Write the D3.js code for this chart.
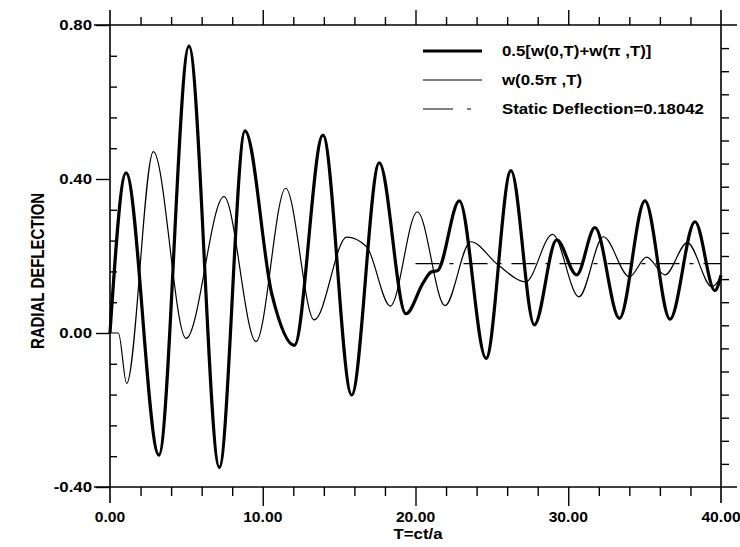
<!DOCTYPE html>
<html><head><meta charset="utf-8">
<script src="https://cdn.jsdelivr.net/npm/d3@7"></script>
<style>body{margin:0;background:#fff}text{font-family:"Liberation Sans",Arial,sans-serif;font-weight:bold;fill:#000}</style>
</head><body><svg id="c" width="740" height="547"></svg>
<script>
// thick: 0.5[w(0,T)+w(pi,T)]
const thickT = [0,1.05,3.2,5.17,7.16,8.84,10.6,12.07,13.94,15.82,17.63,19.37,20.5,21.0,21.45,22.87,24.62,26.25,27.78,29.24,30.55,31.75,33.35,35.02,36.66,38.3,39.6,40];
const thickV = [0,0.416,-0.317,0.745,-0.349,0.525,0.10,-0.032,0.514,-0.161,0.442,0.05,0.13,0.158,0.162,0.343,-0.066,0.422,0.021,0.242,0.151,0.274,0.038,0.343,0.036,0.289,0.11,0.15];
// thin: w(0.5pi,T)
const thinT = [0,0.55,1.09,2.84,4.98,7.46,9.56,11.5,13.37,15.5,16.8,18.35,20.12,21.93,23.61,25.4,27.21,28.97,30.7,32.3,34.0,35.13,36.33,37.8,39.4,40];
const thinV = [0,0,-0.131,0.471,-0.014,0.354,-0.022,0.376,0.034,0.249,0.224,0.07,0.315,0.071,0.237,0.177,0.133,0.256,0.094,0.25,0.146,0.197,0.151,0.235,0.12,0.145];
const staticValue = 0.18042;
const staticRange = [20, 40];
const xTicks = [0,10,20,30,40];
const xTickLabels = ["0.00","10.00","20.00","30.00","40.00"];
const yTicks = [-0.4,0,0.4,0.8];
const yTickLabels = ["-0.40","0.00","0.40","0.80"];
const legendLabels = ["0.5[w(0,T)+w(\u03c0 ,T)]","w(0.5\u03c0 ,T)","Static Deflection=0.18042"];

const svg = d3.select("#c");
const x = d3.scaleLinear([0,40],[110,721]);
const y = d3.scaleLinear([-0.4,0.8],[487,25]);
const X0=110,X1=721,Y0=25,Y1=487;

const frame=[[X0-16,Y0,X1+16,Y0],[X0-16,Y1,X1+16,Y1],[X0,Y0-15,X0,Y1+16],[X1,Y0-15,X1,Y1+16]];
svg.selectAll("line.f").data(frame).join("line").attr("x1",d=>d[0]).attr("y1",d=>d[1]).attr("x2",d=>d[2]).attr("y2",d=>d[3]).attr("stroke","#000").attr("stroke-width",1.6);

const minorX = d3.range(0,40.001,2).filter(v=>v%10!==0);
const minorYL = d3.range(-0.4,0.8001,0.08).map(v=>+v.toFixed(2)).filter(v=>!yTicks.some(t=>Math.abs(t-v)<1e-6));
const minorYR = d3.range(-0.4,0.8001,0.06).map(v=>+v.toFixed(2)).filter(v=>v>-0.39&&v<0.79);
function ax(g){g.select(".domain").remove();g.selectAll("line").attr("stroke","#000").attr("stroke-width",1.4);g.selectAll("text").remove();}
svg.append("g").attr("transform",`translate(0,${Y0})`).call(d3.axisTop(x).tickValues(minorX).tickSize(8)).call(ax);
svg.append("g").attr("transform",`translate(0,${Y0})`).call(d3.axisTop(x).tickValues([10,20,30]).tickSize(15)).call(ax);
svg.append("g").attr("transform",`translate(0,${Y1})`).call(d3.axisBottom(x).tickValues(minorX).tickSize(9)).call(ax);
svg.append("g").attr("transform",`translate(0,${Y1})`).call(d3.axisBottom(x).tickValues([10,20,30]).tickSize(19)).call(ax);
svg.append("g").attr("transform",`translate(${X0},0)`).call(d3.axisRight(y).tickValues(minorYL).tickSize(7)).call(ax);
svg.append("g").attr("transform",`translate(${X0},0)`).call(d3.axisLeft(y).tickValues(yTicks).tickSize(14)).call(ax);
svg.append("g").attr("transform",`translate(${X1},0)`).call(d3.axisRight(y).tickValues(minorYR).tickSize(8)).call(ax);

svg.selectAll("text.xl").data(xTicks).join("text").attr("text-anchor","middle").attr("font-size",14)
  .attr("transform",d=>`translate(${x(d)},522) scale(1.12,1)`).text((d,i)=>xTickLabels[i]);
svg.selectAll("text.yl").data(yTicks).join("text").attr("text-anchor","end").attr("font-size",15)
  .attr("transform",d=>`translate(92,${y(d)+5}) scale(1.12,1)`).text((d,i)=>yTickLabels[i]);
svg.append("text").attr("text-anchor","middle").attr("font-size",15).attr("transform","translate(418,539) scale(1.12,1)").text("T=ct/a");
svg.append("text").attr("text-anchor","middle").attr("font-size",15).attr("transform","translate(44,271) rotate(-90) scale(1,1.2)").text("RADIAL DEFLECTION");

const line = d3.line().x(d=>x(d[0])).y(d=>y(d[1])).curve(d3.curveMonotoneX);
svg.append("path").attr("d",line(thinT.map((t,i)=>[t,thinV[i]]))).attr("fill","none").attr("stroke","#000").attr("stroke-width",1.2);
svg.append("path").attr("d",line(thickT.map((t,i)=>[t,thickV[i]]))).attr("fill","none").attr("stroke","#000").attr("stroke-width",3.2);
svg.append("line").attr("x1",x(staticRange[0])).attr("x2",x(staticRange[1])).attr("y1",y(staticValue)).attr("y2",y(staticValue))
  .attr("stroke","#000").attr("stroke-width",1.2).attr("stroke-dasharray","24,10,4,10");

const lg=[{w:3.2,dash:null},{w:1.2,dash:null},{w:1.2,dash:"30,14,4,20"}];
const ly=[51,80,109];
lg.forEach((d,i)=>{
  svg.append("line").attr("x1",423).attr("x2",482).attr("y1",ly[i]).attr("y2",ly[i]).attr("stroke","#000").attr("stroke-width",d.w).attr("stroke-dasharray",d.dash);
  svg.append("text").attr("font-size",15).attr("transform",`translate(502,${ly[i]+5}) scale(1.12,1)`).text(legendLabels[i]);
});
</script></body></html>
